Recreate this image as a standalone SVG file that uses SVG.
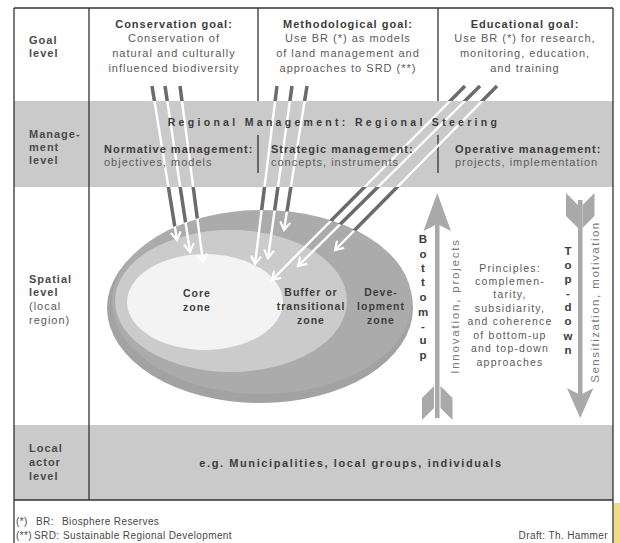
<svg xmlns="http://www.w3.org/2000/svg" width="620" height="543" viewBox="0 0 620 543">
<defs>
<style>
text{font-family:"Liberation Sans",Arial,Helvetica,sans-serif;font-size:11px;letter-spacing:1px}
.b{font-weight:bold;fill:#3c3c3c}
.n{fill:#5a5a5a}
.lb{font-weight:bold;fill:#4a4a4a}
.c{text-anchor:middle}
.fn{font-size:10px;letter-spacing:0.4px;fill:#474747}
.pr{font-size:10.5px;letter-spacing:1.2px;fill:#5a5a5a;text-anchor:middle}
.st{font-weight:bold;font-size:11.5px;fill:#3c3c3c;text-anchor:middle;letter-spacing:0}
.rot{font-size:11.5px;fill:#7a7a7a;text-anchor:middle}
.fr{stroke:#333;stroke-width:1.3;fill:none}
.wl{stroke:#fff;stroke-width:2.4;fill:none;marker-end:url(#wh)}
.dl{stroke:#6b6b6b;stroke-width:3.5;fill:none}
.ga{fill:#a9a9a9}
</style>
<marker id="wh" markerUnits="userSpaceOnUse" markerWidth="16" markerHeight="16" viewBox="-10 -8 14 16" refX="0" refY="0" orient="auto"><path d="M-8,-5 L0,0 L-8,5" stroke="#fff" stroke-width="2.2" fill="none"/></marker>
<mask id="wm" maskUnits="userSpaceOnUse" x="0" y="0" width="620" height="543">
<rect width="620" height="543" fill="#fff"/>
<rect x="0" y="101" width="620" height="86" fill="#000"/>
<ellipse cx="260" cy="306" rx="153" ry="96" fill="#000"/>
</mask>
</defs>
<rect width="620" height="543" fill="#fff"/>
<rect x="614" y="503" width="6" height="40" fill="#f2dc80"/>

<g id="bands">
<rect x="14" y="101" width="599" height="86" fill="#cacaca"/>
<rect x="14" y="425" width="599" height="75" fill="#cacaca"/>
</g>

<g id="frame">
<path class="fr" d="M14,8 H613 M14,8 V543 M613,8 V543 M89,8 V500 M258,8 V101 M438,8 V101 M258,135 V173 M438,135 V173 M14,500 H613"/>
</g>

<g id="zones">
<ellipse cx="260" cy="308" rx="153" ry="95" fill="#a2a2a2"/>
<ellipse cx="262" cy="302" rx="150" ry="92" fill="#ababab"/>
<ellipse cx="231" cy="301" rx="116" ry="71" fill="#cbcbcb"/>
<ellipse cx="205" cy="302" rx="78" ry="48" fill="#f3f3f3"/>
</g>

<g id="connectors">
<g id="white-lines">
<path class="wl" d="M152,86 L177,240"/>
<path class="wl" d="M165,86 L190,252"/>
<path class="wl" d="M180,86 L203,262"/>
<path class="wl" d="M277,86 L255,264"/>
<path class="wl" d="M292,86 L268,258"/>
<path class="wl" d="M307,86 L284,230"/>
<path class="wl" d="M465,86 L272,280"/>
<path class="wl" d="M480,86 L298,266"/>
<path class="wl" d="M497,86 L335,250"/>
</g>
<g id="dark-lines" mask="url(#wm)">
<path class="dl" d="M152,86 L177,240"/>
<path class="dl" d="M165,86 L190,252"/>
<path class="dl" d="M180,86 L203,262"/>
<path class="dl" d="M277,86 L255,264"/>
<path class="dl" d="M292,86 L268,258"/>
<path class="dl" d="M307,86 L284,230"/>
<path class="dl" d="M465,86 L272,280"/>
<path class="dl" d="M480,86 L298,266"/>
<path class="dl" d="M497,86 L335,250"/>
</g>
</g>

<g id="labels">
<text class="lb" x="29" y="44">Goal</text>
<text class="lb" x="29" y="57">level</text>
<text class="lb" x="29" y="138">Manage-</text>
<text class="lb" x="29" y="151">ment</text>
<text class="lb" x="29" y="164">level</text>
<text class="lb" x="29" y="283">Spatial</text>
<text class="lb" x="29" y="296">level</text>
<text class="n" x="29" y="310">(local</text>
<text class="n" x="29" y="324">region)</text>
<text class="lb" x="29" y="452">Local</text>
<text class="lb" x="29" y="466">actor</text>
<text class="lb" x="29" y="480">level</text>
</g>

<g id="goal-conservation">
<text class="b c" x="174" y="28">Conservation goal:</text>
<text class="n c" x="174" y="42">Conservation of</text>
<text class="n c" x="174" y="57">natural and culturally</text>
<text class="n c" x="174" y="72">influenced biodiversity</text>
</g>
<g id="goal-methodological">
<text class="b c" x="348" y="28">Methodological goal:</text>
<text class="n c" x="348" y="42">Use BR (*) as models</text>
<text class="n c" x="348" y="57">of land management and</text>
<text class="n c" x="348" y="72">approaches to SRD (**)</text>
</g>
<g id="goal-educational">
<text class="b c" x="525" y="28">Educational goal:</text>
<text class="n c" x="525" y="42">Use BR (*) for research,</text>
<text class="n c" x="525" y="57">monitoring, education,</text>
<text class="n c" x="525" y="72">and training</text>
</g>

<g id="management">
<text class="b c" x="334" y="126" style="font-size:10.5px;letter-spacing:3.3px">Regional Management: Regional Steering</text>
<text class="b" x="104" y="153">Normative management:</text>
<text class="n" x="104" y="166">objectives, models</text>
<text class="b" x="271" y="153">Strategic management:</text>
<text class="n" x="271" y="166">concepts, instruments</text>
<text class="b" x="455" y="153">Operative management:</text>
<text class="n" x="455" y="166">projects, implementation</text>
</g>

<g id="core-zone">
<text class="b c" x="197" y="297" style="font-size:10.5px">Core</text>
<text class="b c" x="197" y="311" style="font-size:10.5px">zone</text>
</g>
<g id="buffer-zone">
<text class="b c" x="311" y="296" style="font-size:10.5px">Buffer or</text>
<text class="b c" x="311" y="310" style="font-size:10.5px">transitional</text>
<text class="b c" x="311" y="324" style="font-size:10.5px">zone</text>
</g>
<g id="development-zone">
<text class="b c" x="381" y="296" style="font-size:10.5px">Deve-</text>
<text class="b c" x="381" y="310" style="font-size:10.5px">lopment</text>
<text class="b c" x="381" y="324" style="font-size:10.5px">zone</text>
</g>

<g id="bottom-up">
<rect class="ga" x="435" y="222" width="4.5" height="196"/>
<polygon class="ga" points="437.2,193 451,231 437.2,224 423.5,231"/>
<polygon class="ga" points="422,398 434,386 434,408 422,420"/>
<polygon class="ga" points="452.5,398 440.5,386 440.5,408 452.5,420"/>
<text class="st" x="423" y="243">B</text>
<text class="st" x="423" y="258">o</text>
<text class="st" x="423" y="272">t</text>
<text class="st" x="423" y="286">t</text>
<text class="st" x="423" y="301">o</text>
<text class="st" x="423" y="316">m</text>
<text class="st" x="423" y="330">-</text>
<text class="st" x="423" y="344">u</text>
<text class="st" x="423" y="359">p</text>
<text class="rot" x="0" y="0" style="letter-spacing:1.8px" transform="translate(459,306) rotate(-90)">Innovation, projects</text>
</g>

<g id="principles">
<text class="pr" x="510" y="272">Principles:</text>
<text class="pr" x="510" y="285">complemen-</text>
<text class="pr" x="510" y="298">tarity,</text>
<text class="pr" x="510" y="312">subsidiarity,</text>
<text class="pr" x="510" y="325">and coherence</text>
<text class="pr" x="510" y="339">of bottom-up</text>
<text class="pr" x="510" y="352">and top-down</text>
<text class="pr" x="510" y="366">approaches</text>
</g>

<g id="top-down">
<rect class="ga" x="578" y="200" width="4.5" height="196"/>
<polygon class="ga" points="580.2,418 593.5,388 580.2,395 567,388"/>
<polygon class="ga" points="566,193 578,205 578,228 566,216"/>
<polygon class="ga" points="594.5,193 582.5,205 582.5,228 594.5,216"/>
<text class="st" x="568" y="255">T</text>
<text class="st" x="568" y="269">o</text>
<text class="st" x="568" y="283">p</text>
<text class="st" x="568" y="297">-</text>
<text class="st" x="568" y="311">d</text>
<text class="st" x="568" y="325">o</text>
<text class="st" x="568" y="340">w</text>
<text class="st" x="568" y="354">n</text>
<text class="rot" x="0" y="0" style="letter-spacing:1.5px" transform="translate(599,302) rotate(-90)">Sensitization, motivation</text>
</g>

<g id="local-actors">
<text class="b c" x="351" y="467" style="letter-spacing:1.6px">e.g. Municipalities, local groups, individuals</text>
</g>

<g id="footnotes">
<text class="fn" x="16" y="525">(*)</text>
<text class="fn" x="36" y="525">BR:</text>
<text class="fn" x="62" y="525">Biosphere Reserves</text>
<text class="fn" x="16" y="539">(**)</text>
<text class="fn" x="34" y="539">SRD:</text>
<text class="fn" x="63" y="539">Sustainable Regional Development</text>
<text class="fn" x="608" y="539" text-anchor="end">Draft: Th. Hammer</text>
</g>
</svg>
